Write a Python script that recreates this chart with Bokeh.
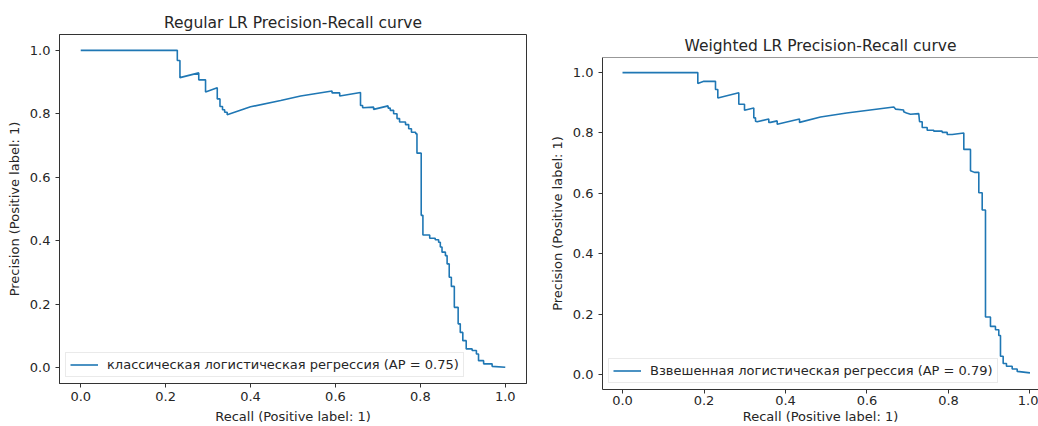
from bokeh.plotting import figure
from bokeh.layouts import row
from bokeh.models import FixedTicker, PrintfTickFormatter, Legend, LegendItem, Span
from bokeh.embed import file_html
from bokeh.resources import INLINE

# ---------------- data ----------------
ticks = [0.0, 0.2, 0.4, 0.6, 0.8, 1.0]

title_regular = "Regular LR Precision-Recall curve"
title_weighted = "Weighted LR Precision-Recall curve"
x_label = "Recall (Positive label: 1)"
y_label = "Precision (Positive label: 1)"
label_regular = "классическая логистическая регрессия (AP = 0.75)"
label_weighted = "Взвешенная логистическая регрессия (AP = 0.79)"

recall_regular = [
    0.0, 0.2275, 0.2275, 0.2337, 0.2337, 0.278, 0.278, 0.294, 0.294, 0.3216,
    0.3216, 0.328, 0.328, 0.334, 0.334, 0.339, 0.339, 0.345, 0.345, 0.40,
    0.471, 0.518, 0.592, 0.592, 0.610, 0.610, 0.659, 0.659, 0.664, 0.664,
    0.690, 0.690, 0.724, 0.724, 0.729, 0.729, 0.737, 0.737, 0.745, 0.745,
    0.751, 0.751, 0.765, 0.765, 0.7725, 0.7725, 0.779, 0.779, 0.789, 0.789,
    0.792, 0.792, 0.802, 0.802, 0.806, 0.806, 0.822, 0.822, 0.835, 0.835,
    0.843, 0.843, 0.847, 0.847, 0.851, 0.851, 0.859, 0.859, 0.863, 0.863,
    0.868, 0.868, 0.873, 0.873, 0.880, 0.880, 0.889, 0.889, 0.894, 0.894,
    0.900, 0.900, 0.908, 0.908, 0.922, 0.922, 0.932, 0.932, 0.937, 0.937,
    0.949, 0.949, 0.969, 0.969, 1.0,
]
precision_regular = [
    1.0, 1.0, 0.968, 0.968, 0.914, 0.929, 0.907, 0.907, 0.869, 0.882,
    0.847, 0.847, 0.823, 0.823, 0.813, 0.813, 0.805, 0.805, 0.797, 0.822,
    0.842, 0.856, 0.872, 0.866, 0.866, 0.856, 0.867, 0.826, 0.826, 0.819,
    0.821, 0.814, 0.825, 0.818, 0.818, 0.811, 0.811, 0.800, 0.800, 0.785,
    0.785, 0.774, 0.774, 0.766, 0.766, 0.753, 0.753, 0.742, 0.742, 0.737,
    0.737, 0.676, 0.676, 0.480, 0.480, 0.418, 0.418, 0.408, 0.408, 0.403,
    0.403, 0.395, 0.395, 0.380, 0.380, 0.364, 0.364, 0.353, 0.353, 0.327,
    0.327, 0.285, 0.285, 0.256, 0.256, 0.190, 0.190, 0.138, 0.138, 0.111,
    0.111, 0.085, 0.085, 0.059, 0.059, 0.054, 0.054, 0.043, 0.043, 0.022,
    0.022, 0.012, 0.012, 0.004, 0.001,
]

recall_weighted = [
    0.0, 0.1848, 0.1848, 0.1995, 0.2282, 0.2282, 0.2339, 0.2339, 0.2854, 0.2854,
    0.2994, 0.2994, 0.3222, 0.3222, 0.3264, 0.3264, 0.3305, 0.359, 0.359, 0.3632,
    0.3796, 0.3796, 0.4344, 0.4344, 0.4859, 0.55, 0.6658, 0.670, 0.690, 0.690,
    0.697, 0.7067, 0.727, 0.729, 0.7355, 0.7355, 0.7477, 0.7477, 0.7639, 0.7639,
    0.7845, 0.7845, 0.7968, 0.7968, 0.8091, 0.8376, 0.8376, 0.854, 0.854, 0.8638,
    0.8744, 0.8744, 0.8827, 0.8827, 0.8908, 0.8908, 0.903, 0.903, 0.9153, 0.9153,
    0.9234, 0.9234, 0.9276, 0.9276, 0.9342, 0.9342, 0.9423, 0.9423, 0.9563, 0.9563,
    0.9686, 0.9686, 1.0,
]
precision_weighted = [
    1.0, 1.0, 0.964, 0.971, 0.971, 0.944, 0.944, 0.916, 0.933, 0.895,
    0.895, 0.875, 0.883, 0.850, 0.850, 0.839, 0.837, 0.846, 0.835, 0.835,
    0.840, 0.829, 0.846, 0.835, 0.853, 0.866, 0.886, 0.879, 0.876, 0.870,
    0.866, 0.862, 0.864, 0.837, 0.837, 0.818, 0.818, 0.809, 0.809, 0.806,
    0.806, 0.802, 0.802, 0.795, 0.795, 0.800, 0.7455, 0.7455, 0.6747, 0.6694,
    0.6694, 0.602, 0.602, 0.5448, 0.5448, 0.190, 0.190, 0.159, 0.159, 0.148,
    0.148, 0.129, 0.129, 0.060, 0.060, 0.036, 0.036, 0.027, 0.027, 0.018,
    0.018, 0.010, 0.005,
]

# ---------------- style ----------------
FONT = "DejaVu Sans"
BLUE = "#1f77b4"
TEXT = "#262626"
SPINE = "#333333"


def make_fig(width, x_range, min_left, min_right, min_top, min_bottom, title,
             xs1, xs2):
    p = figure(width=width, height=426, x_range=x_range, y_range=(-0.05, 1.05),
               output_backend="svg", toolbar_location=None, frame_align=False,
               min_border_left=min_left, min_border_right=min_right,
               min_border_top=min_top, min_border_bottom=min_bottom,
               background_fill_color="white", border_fill_color="white")
    p.title.text = title
    p.title.text_font = FONT
    p.title.text_font_size = "15.5px"
    p.title.text_font_style = "normal"
    p.title.text_color = TEXT
    p.title.align = "center"
    p.title.standoff = 6
    p.xgrid.grid_line_color = None
    p.ygrid.grid_line_color = None
    for ax, lab in ((p.xaxis, x_label), (p.yaxis, y_label)):
        ax.ticker = FixedTicker(ticks=ticks)
        ax.formatter = PrintfTickFormatter(format="%.1f")
        ax.axis_label = lab
        ax.axis_label_text_font = FONT
        ax.axis_label_text_font_size = "13px"
        ax.axis_label_text_font_style = "normal"
        ax.axis_label_text_color = TEXT
        ax.major_label_text_font = FONT
        ax.major_label_text_font_size = "13px"
        ax.major_label_text_color = TEXT
        ax.major_tick_in = 0
        ax.major_tick_out = 4
        ax.minor_tick_line_color = None
        ax.major_tick_line_color = SPINE
        ax.axis_line_color = SPINE
    p.yaxis.major_label_standoff = 5
    p.yaxis.axis_label_standoff = 5
    p.xaxis.major_label_standoff = xs1
    p.xaxis.axis_label_standoff = xs2
    return p


def add_curve(p, rec, prec, label):
    r = p.line(rec, prec, line_color=BLUE, line_width=1.6)
    leg = Legend(items=[LegendItem(label=label, renderers=[r])],
                 location="bottom_left", margin=6, padding=4,
                 glyph_width=28, glyph_height=15, label_height=15,
                 label_standoff=9, label_text_font=FONT,
                 label_text_font_size="13px", label_text_color=TEXT,
                 border_line_color="#d5d5d5", border_line_width=1,
                 background_fill_color="white", background_fill_alpha=0.8)
    p.add_layout(leg)


W1 = 540
p1 = make_fig(W1, (-0.05, 1.05), 59, W1 - 526, 34, 43, title_regular, 4, 5)
p1.outline_line_color = SPINE
add_curve(p1, recall_regular, precision_regular, label_regular)

p2 = make_fig(1038 - W1, (-0.0491, 1.0209), 602 - W1, 0, 57, 36, title_weighted, 2, 1)
p2.title.offset = 6
p2.outline_line_color = None
p2.add_layout(Span(location=1.05, dimension="width", line_color=SPINE, line_width=1))
add_curve(p2, recall_weighted, precision_weighted, label_weighted)

layout = row(p1, p2)
open("out.html", "w").write(file_html(layout, INLINE))
